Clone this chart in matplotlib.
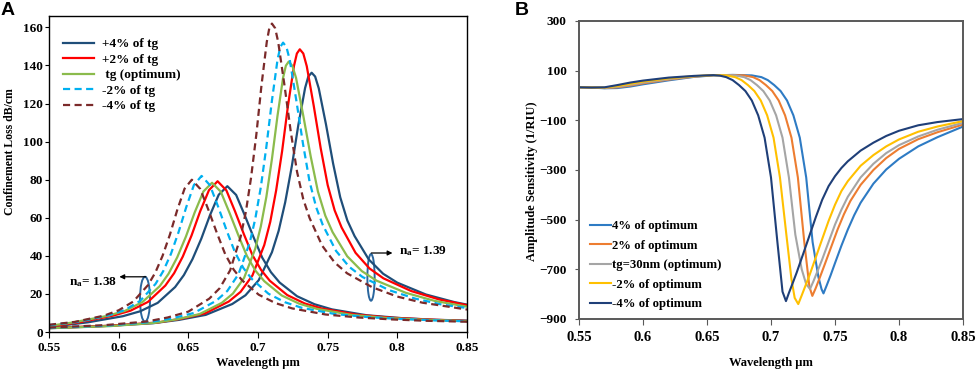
import matplotlib
matplotlib.use("Agg")
import matplotlib.pyplot as plt
from matplotlib.patches import Ellipse

plt.rcParams['font.family'] = ['Liberation Serif', 'DejaVu Serif']
plt.rcParams['font.weight'] = 'bold'
plt.rcParams['mathtext.default'] = 'regular'

# ---------- panel A: confinement loss (two analyte indices per thickness) ----------
a_labels = ["+4% of tg", "+2% of tg", " tg (optimum)", "-2% of tg", "-4% of tg"]
a_colors = ["#1F4E79", "#FF0000", "#8BBB4C", "#00B0F0", "#7B2A2A"]
a_styles = ["-", "-", "-", "--", "--"]

# n_a = 1.38 curves
low_p4_x = [0.55, 0.578, 0.603, 0.6155, 0.628, 0.6405, 0.6468, 0.653, 0.6593, 0.6655, 0.6718, 0.678, 0.6843,
            0.6905, 0.6968, 0.703, 0.7093, 0.7155, 0.728, 0.7405, 0.753, 0.778, 0.803, 0.828, 0.85]
low_p4_y = [2.6, 5.1, 8.3, 10.9, 15.3, 23.6, 29.9, 38.3, 49.0, 61.3, 72.1, 76.6, 72.0,
            61.3, 49.8, 39.1, 31.4, 26.0, 18.8, 14.6, 11.9, 8.8, 7.3, 6.4, 6.0]
low_p2_x = [0.55, 0.571, 0.596, 0.6085, 0.621, 0.6335, 0.6398, 0.646, 0.6523, 0.6585, 0.6648, 0.671, 0.6773,
            0.6835, 0.6898, 0.696, 0.7023, 0.7085, 0.721, 0.7335, 0.746, 0.771, 0.796, 0.821, 0.85]
low_p2_y = [2.9, 5.0, 8.6, 11.2, 15.8, 24.4, 30.9, 39.6, 50.7, 63.4, 74.5, 79.2, 74.4,
            63.4, 51.5, 40.4, 32.5, 26.9, 19.4, 15.0, 12.3, 9.1, 7.5, 6.6, 5.8]
low_opt_x = [0.55, 0.567, 0.592, 0.6045, 0.617, 0.6295, 0.6358, 0.642, 0.6483, 0.6545, 0.6608, 0.667, 0.6733,
             0.6795, 0.6858, 0.692, 0.6983, 0.7045, 0.717, 0.7295, 0.742, 0.767, 0.792, 0.817, 0.85]
low_opt_y = [3.2, 5.0, 8.5, 11.1, 15.7, 24.1, 30.6, 39.2, 50.2, 62.7, 73.8, 78.4, 73.7,
             62.7, 51.0, 40.0, 32.1, 26.7, 19.2, 14.9, 12.2, 9.0, 7.4, 6.5, 5.7]
low_m2_x = [0.55, 0.5715, 0.5935, 0.6045, 0.6155, 0.6265, 0.632, 0.6375, 0.643, 0.6485, 0.654, 0.6595, 0.6655,
            0.6715, 0.6775, 0.6835, 0.6895, 0.6955, 0.7075, 0.7195, 0.7315, 0.7555, 0.7795, 0.8035, 0.8275, 0.85]
low_m2_y = [3.6, 5.4, 8.9, 11.6, 16.4, 25.3, 32.0, 41.0, 52.5, 65.6, 77.2, 82.0, 77.1,
            65.6, 53.3, 41.8, 33.6, 27.9, 20.1, 15.6, 12.7, 9.4, 7.8, 6.8, 6.1, 5.6]
low_m4_x = [0.55, 0.5685, 0.5895, 0.600, 0.6105, 0.621, 0.6263, 0.6315, 0.6368, 0.642, 0.6473, 0.6525, 0.6585,
            0.6645, 0.6705, 0.6765, 0.6825, 0.6885, 0.7005, 0.7125, 0.7245, 0.7485, 0.7725, 0.7965, 0.8205, 0.85]
low_m4_y = [3.8, 5.3, 8.6, 11.4, 16.0, 24.6, 31.2, 40.0, 51.2, 64.0, 75.3, 80.0, 75.2,
            64.0, 52.0, 40.8, 32.8, 27.2, 19.6, 15.2, 12.4, 9.2, 7.6, 6.6, 5.9, 5.4]

# n_a = 1.39 curves
high_p4_x = [0.55, 0.5865, 0.6245, 0.6435, 0.6625, 0.6815, 0.691, 0.7005, 0.710, 0.7148, 0.7195, 0.7243, 0.729,
             0.7338, 0.7361, 0.7385, 0.741, 0.7436, 0.7488, 0.7539, 0.759, 0.7641, 0.7693, 0.7795, 0.7898,
             0.800, 0.8205, 0.841, 0.85]
high_p4_y = [2.0, 3.0, 4.6, 6.4, 9.0, 14.7, 19.3, 27.2, 41.9, 53.1, 68.1, 87.2, 109.0,
             128.2, 134.2, 136.2, 134.2, 128.0, 109.0, 88.5, 70.8, 58.6, 50.4, 38.1, 30.6,
             25.9, 19.7, 15.7, 14.4]
high_p2_x = [0.55, 0.594, 0.628, 0.645, 0.662, 0.679, 0.6875, 0.696, 0.7045, 0.7088, 0.713, 0.7173, 0.7215,
             0.7258, 0.7279, 0.730, 0.7325, 0.735, 0.740, 0.745, 0.750, 0.755, 0.760, 0.770, 0.780,
             0.790, 0.810, 0.830, 0.85]
high_p2_y = [2.1, 3.3, 5.0, 7.0, 9.8, 16.0, 21.1, 29.7, 45.7, 57.9, 74.3, 95.0, 118.8,
             139.7, 146.3, 148.5, 146.3, 139.6, 118.8, 96.5, 77.2, 63.9, 54.9, 41.6, 33.4,
             28.2, 21.5, 17.1, 14.1]
high_opt_x = [0.55, 0.594, 0.626, 0.642, 0.658, 0.674, 0.682, 0.690, 0.698, 0.702, 0.706, 0.710, 0.714,
              0.718, 0.720, 0.722, 0.7246, 0.7273, 0.7325, 0.7378, 0.743, 0.7483, 0.7535, 0.764, 0.7745,
              0.785, 0.806, 0.827, 0.85]
high_opt_y = [2.0, 3.1, 4.8, 6.7, 9.4, 15.3, 20.2, 28.4, 43.7, 55.4, 71.0, 90.9, 113.6,
              133.6, 139.9, 142.0, 139.9, 133.5, 113.6, 92.3, 73.8, 61.1, 52.5, 39.8, 32.0,
              27.0, 20.6, 16.3, 13.3]
high_m2_x = [0.55, 0.590, 0.622, 0.638, 0.654, 0.670, 0.678, 0.686, 0.694, 0.698, 0.702, 0.706, 0.710,
             0.714, 0.716, 0.718, 0.7204, 0.7228, 0.7275, 0.7323, 0.737, 0.7418, 0.7465, 0.756, 0.7655,
             0.775, 0.794, 0.813, 0.832, 0.85]
high_m2_y = [2.2, 3.3, 5.2, 7.1, 10.0, 16.4, 21.6, 30.4, 46.8, 59.3, 76.0, 97.3, 121.6,
             143.0, 149.7, 152.0, 149.7, 142.9, 121.6, 98.8, 79.0, 65.4, 56.2, 42.6, 34.2,
             28.9, 22.0, 17.5, 14.4, 12.6]
high_m4_x = [0.55, 0.590, 0.620, 0.635, 0.650, 0.665, 0.6725, 0.680, 0.6875, 0.6913, 0.695, 0.6988, 0.7025,
             0.7063, 0.7081, 0.710, 0.7123, 0.7145, 0.719, 0.7235, 0.728, 0.7325, 0.737, 0.746, 0.755,
             0.764, 0.782, 0.800, 0.818, 0.85]
high_m4_y = [2.3, 3.6, 5.5, 7.6, 10.7, 17.5, 23.0, 32.4, 49.9, 63.2, 81.0, 103.7, 129.6,
             152.4, 159.6, 162.0, 159.6, 152.3, 129.6, 105.3, 84.2, 69.7, 59.9, 45.4, 36.5,
             30.8, 23.5, 18.6, 15.4, 11.8]

# ---------- panel B: amplitude sensitivity ----------
b_labels = ["4% of optimum", "2% of optimum", "tg=30nm (optimum)", "-2% of optimum", "-4% of optimum"]
b_colors = ["#2E7BC4", "#ED7D31", "#A5A5A5", "#FFC000", "#1F3F78"]

sens_p4_x = [0.55, 0.56, 0.57, 0.58, 0.59, 0.60, 0.62, 0.64, 0.655, 0.67, 0.685, 0.6925, 0.6975, 0.7025,
             0.7075, 0.7125, 0.7175, 0.7225, 0.7275, 0.7325, 0.737, 0.7395, 0.741, 0.7435, 0.7465, 0.75,
             0.755, 0.76, 0.765, 0.77, 0.78, 0.79, 0.80, 0.815, 0.83, 0.85]
sens_p4_y = [33, 32, 29, 30, 36, 45, 61, 75, 81, 83, 81, 74, 62, 42,
             18, -20, -80, -170, -330, -590, -730, -780, -797, -765, -725, -675,
             -605, -540, -482, -432, -355, -298, -255, -205, -168, -125]
sens_p2_x = [0.55, 0.56, 0.57, 0.58, 0.59, 0.60, 0.62, 0.64, 0.655, 0.67, 0.679, 0.686, 0.691, 0.696,
             0.701, 0.706, 0.711, 0.716, 0.721, 0.726, 0.730, 0.7323, 0.735, 0.738, 0.742, 0.747,
             0.752, 0.757, 0.762, 0.77, 0.78, 0.79, 0.80, 0.815, 0.83, 0.85]
sens_p2_y = [33, 32, 30, 33, 40, 49, 64, 76, 82, 82, 81, 74, 62, 42,
             18, -20, -80, -170, -330, -590, -770, -807, -775, -735, -680, -610,
             -540, -478, -425, -360, -300, -252, -215, -176, -148, -117]
sens_opt_x = [0.55, 0.56, 0.57, 0.58, 0.59, 0.60, 0.62, 0.64, 0.655, 0.665, 0.672, 0.679, 0.684, 0.689,
              0.694, 0.699, 0.704, 0.709, 0.714, 0.719, 0.724, 0.7275, 0.7305, 0.733, 0.736, 0.74,
              0.745, 0.75, 0.755, 0.76, 0.77, 0.78, 0.79, 0.80, 0.815, 0.83, 0.85]
sens_opt_y = [33, 32, 31, 35, 43, 52, 66, 77, 82, 82, 81, 74, 62, 42,
              18, -20, -80, -170, -330, -560, -700, -760, -779, -750, -712, -660,
              -590, -520, -460, -408, -330, -275, -232, -200, -165, -138, -110]
sens_m2_x = [0.55, 0.56, 0.57, 0.58, 0.59, 0.60, 0.62, 0.64, 0.655, 0.665, 0.672, 0.677, 0.682, 0.687,
             0.692, 0.697, 0.702, 0.707, 0.712, 0.716, 0.7185, 0.7213, 0.724, 0.727, 0.73, 0.735,
             0.74, 0.745, 0.75, 0.755, 0.76, 0.77, 0.78, 0.79, 0.80, 0.815, 0.83, 0.85]
sens_m2_y = [33, 32, 32, 38, 47, 56, 69, 78, 82, 81, 74, 62, 42, 18,
             -20, -80, -170, -330, -560, -740, -815, -840, -805, -765, -725, -652,
             -578, -505, -440, -385, -345, -283, -240, -205, -177, -146, -125, -103]
sens_m4_x = [0.55, 0.56, 0.57, 0.58, 0.59, 0.60, 0.62, 0.64, 0.655, 0.66, 0.665, 0.67, 0.675, 0.68,
             0.685, 0.69, 0.695, 0.70, 0.705, 0.709, 0.7117, 0.714, 0.717, 0.72, 0.725, 0.73,
             0.735, 0.74, 0.745, 0.75, 0.755, 0.76, 0.77, 0.78, 0.79, 0.80, 0.815, 0.83, 0.85]
sens_m4_y = [33, 32, 33, 42, 52, 60, 72, 79, 82, 80, 74, 62, 42, 18,
             -20, -80, -170, -330, -590, -790, -828, -795, -755, -714, -640, -565,
             -490, -420, -365, -325, -292, -265, -222, -190, -163, -142, -120, -107, -95]

low_x = [low_p4_x, low_p2_x, low_opt_x, low_m2_x, low_m4_x]
low_y = [low_p4_y, low_p2_y, low_opt_y, low_m2_y, low_m4_y]
high_x = [high_p4_x, high_p2_x, high_opt_x, high_m2_x, high_m4_x]
high_y = [high_p4_y, high_p2_y, high_opt_y, high_m2_y, high_m4_y]
sens_x = [sens_p4_x, sens_p2_x, sens_opt_x, sens_m2_x, sens_m4_x]
sens_y = [sens_p4_y, sens_p2_y, sens_opt_y, sens_m2_y, sens_m4_y]


def main():
    fig = plt.figure(figsize=(9.76, 3.71), dpi=100)

    # ---- A ----
    ax = fig.add_axes([0.0502, 0.1051, 0.4283, 0.8518])
    for i in range(5):
        kw = dict(color=a_colors[i], lw=1.6)
        if a_styles[i] == "--":
            kw["dashes"] = (3.2, 2.0)
        ax.plot(low_x[i], low_y[i], label=a_labels[i], **kw)
        ax.plot(high_x[i], high_y[i], **kw)
    ax.set_xlim(0.55, 0.85)
    ax.set_ylim(0, 166)
    ax.set_xticks([0.55, 0.6, 0.65, 0.7, 0.75, 0.8, 0.85])
    ax.set_xticklabels(["0.55", "0.6", "0.65", "0.7", "0.75", "0.8", "0.85"])
    ax.set_yticks(range(0, 161, 20))
    ax.tick_params(axis="x", direction="out", length=4, width=0.8, labelsize=9.5, pad=3)
    ax.tick_params(axis="y", direction="out", length=3, width=0.8, labelsize=9.5, pad=1.5)
    for s in ax.spines.values():
        s.set_linewidth(1.0)
    ax.set_xlabel("Wavelength µm", fontsize=9, fontweight="bold", va="center")
    ax.set_ylabel("Confinement Loss dB/cm", fontsize=8.5, fontweight="bold", va="center")
    ax.xaxis.set_label_coords(0.5, -0.098)
    ax.yaxis.set_label_coords(-0.093, 0.57)
    ax.legend(loc="upper left", bbox_to_anchor=(0.0335, 0.93), frameon=False, fontsize=9.5,
              handlelength=2.35, handletextpad=0.58, labelspacing=0.25, borderpad=0, borderaxespad=0)

    ring = "#2A669E"
    ax.add_patch(Ellipse((0.6189, 17.2), 0.0072, 23.6, fill=False, ec=ring, lw=1.4))
    ax.add_patch(Ellipse((0.7811, 28.7), 0.0052, 24.5, fill=False, ec=ring, lw=1.4))
    ax.annotate("", xy=(0.6005, 29.0), xytext=(0.6195, 29.0),
                arrowprops=dict(arrowstyle="-|>", color="black", lw=0.9, mutation_scale=7,
                                shrinkA=0, shrinkB=0))
    ax.annotate("", xy=(0.7965, 41.5), xytext=(0.7813, 41.5),
                arrowprops=dict(arrowstyle="-|>", color="black", lw=0.9, mutation_scale=7,
                                shrinkA=0, shrinkB=0))
    ax.text(0.5988, 26.4, "n$_a$= 1.38", ha="right", va="center", fontsize=9.5, fontweight="bold")
    ax.text(0.8015, 42.5, "n$_a$= 1.39", ha="left", va="center", fontsize=9.5, fontweight="bold")

    # ---- B ----
    bx = fig.add_axes([0.5932, 0.1402, 0.3935, 0.8032])
    for i in range(5):
        bx.plot(sens_x[i], sens_y[i], color=b_colors[i], lw=1.5, label=b_labels[i])
    bx.set_xlim(0.55, 0.85)
    bx.set_ylim(-900, 300)
    bx.set_xticks([0.55, 0.6, 0.65, 0.7, 0.75, 0.8, 0.85])
    bx.set_xticklabels(["0.55", "0.6", "0.65", "0.7", "0.75", "0.8", "0.85"])
    bx.set_yticks(range(-900, 301, 200))
    bx.tick_params(axis="x", direction="out", length=4, width=0.8, labelsize=10.5, pad=5,
                   color="#595959")
    bx.tick_params(axis="y", direction="out", length=3, width=0.8, labelsize=9.5, pad=6,
                   color="#595959")
    for s in bx.spines.values():
        s.set_linewidth(1.4)
        s.set_color("#595959")
    bx.set_xlabel("Wavelength µm", fontsize=9, fontweight="bold", va="center")
    bx.set_ylabel("Amplitude Sensitivity (1/RIU)", fontsize=9, fontweight="bold", va="center")
    bx.xaxis.set_label_coords(0.5, -0.148)
    bx.yaxis.set_label_coords(-0.122, 0.463)
    bx.legend(loc="lower left", bbox_to_anchor=(0.03, 0.03), frameon=False, fontsize=9.2,
              handlelength=1.6, handletextpad=0.05, labelspacing=0.58, borderpad=0, borderaxespad=0)

    fig.text(0.001, 0.995, "A", ha="left", va="top", fontsize=14, fontweight="bold",
             family=["Liberation Sans", "DejaVu Sans"])
    fig.text(0.527, 0.995, "B", ha="left", va="top", fontsize=14, fontweight="bold",
             family=["Liberation Sans", "DejaVu Sans"])

    fig.savefig("out.png", dpi=100)
    plt.close(fig)


if __name__ == "__main__":
    main()
